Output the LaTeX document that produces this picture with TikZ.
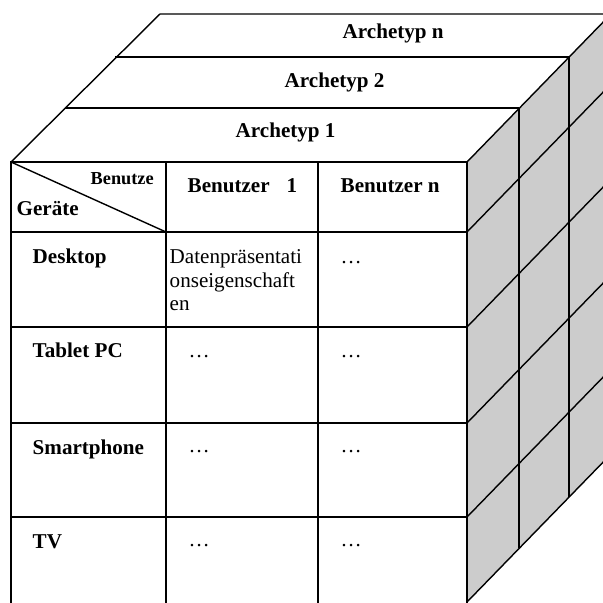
\documentclass[tikz,border=0pt]{standalone}
\usepackage{fontspec}
\setmainfont{Liberation Serif}
\begin{document}
\begin{tikzpicture}[x=0.025cm,y=-0.025cm,line width=1pt,
    head/.style={anchor=base west,inner sep=0pt,font=\bfseries\fontsize{15}{18}\selectfont},
    cell/.style={anchor=base west,inner sep=0pt,font=\fontsize{15}{18}\selectfont}]
                \useasboundingbox (0,0) rectangle (603,603);
                \clip (0,0) rectangle (603,603);
                \fill[gray!40] (467,162) -- (611,14) -- (611,454) -- (467,602) -- cycle;
                \draw (11,162) -- (160,14) -- (611,14);
                \draw (65,108) -- (519,108);
                \draw (115,57) -- (569,57);
                \draw (467,162) -- (611,14);
                \draw (519,108) -- (519,548);
                \draw (569,57) -- (569,497);
                \foreach \y in {232,327,423,517,602}
                    \draw (467,\y) -- ++(144,-148);
                \draw (11,603) -- (11,162) -- (467,162) -- (467,603);
                \draw (166,162) -- (166,603);
                \draw (318,162) -- (318,603);
                \foreach \y in {232,327,423,517}
                    \draw (11,\y) -- (467,\y);
                \draw (11,162) -- (166,232);
                \node[head] (archn) at (342,39) {Archetyp n};
                \node[head] (arch2) at (284,88) {Archetyp 2};
                \node[head] (arch1) at (235,138) {Archetyp 1};
                \node[head,font=\bfseries\fontsize{13}{15}\selectfont] (benutze) at (90,185) {Benutze};
                \node[head] (geraete) at (16,215) {Geräte};
                \node[head] (user1) at (187,193) {Benutzer\hspace{0.8em}1};
                \node[head] (usern) at (340,193) {Benutzer n};
                \node[head] (desktop) at (32,263) {Desktop};
                \node[head] (tablet) at (32,357) {Tablet PC};
                \node[head] (phone) at (32,454) {Smartphone};
                \node[head] (tv) at (32,548) {TV};
                \node[cell] (d1) at (169,263) {Datenpräsentati};
                \node[cell] (d2) at (169,287) {onseigenschaft};
                \node[cell] (d3) at (169,310) {en};
                \node[cell] (desktopn) at (340,263) {\ldots};
                \node[cell] (tablet1) at (188,357) {\ldots};
                \node[cell] (tabletn) at (340,357) {\ldots};
                \node[cell] (phone1) at (188,452) {\ldots};
                \node[cell] (phonen) at (340,452) {\ldots};
                \node[cell] (tv1) at (188,546) {\ldots};
                \node[cell] (tvn) at (340,546) {\ldots};
\end{tikzpicture}
\end{document}
